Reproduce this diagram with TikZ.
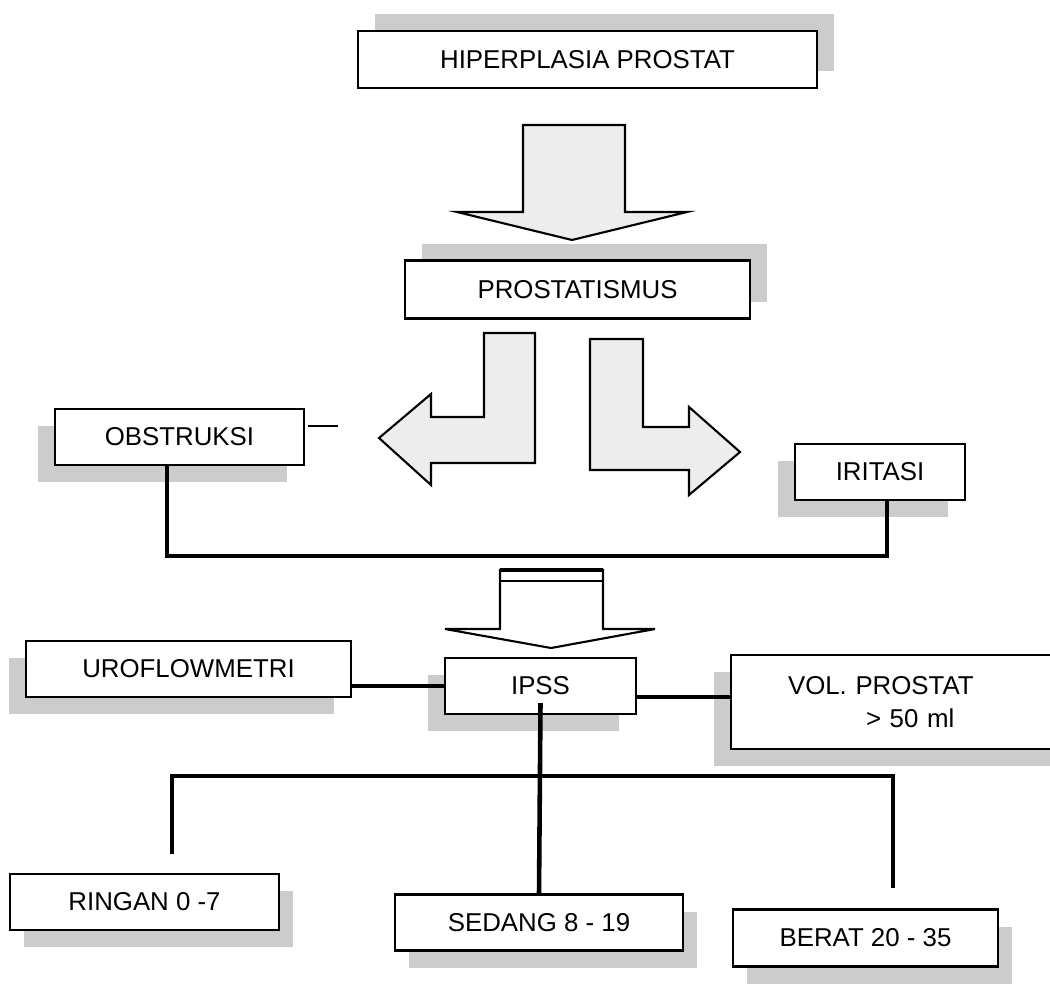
\documentclass[tikz,border=0pt]{standalone}
\usepackage{fontspec}
\setmainfont{Liberation Sans}
\usetikzlibrary{shadows,calc}
\begin{document}
\begin{tikzpicture}[x=0.02cm,y=-0.02cm,
  box/.style={draw=black, line width=1.2pt, fill=white, inner sep=0pt,
    minimum height=1.12cm, font=\fontsize{14.7pt}{19pt}\selectfont},
  shUR/.style={general shadow={fill=gray!40, shadow xshift=0.34cm, shadow yshift=0.34cm}},
  shDL/.style={general shadow={fill=gray!40, shadow xshift=-0.34cm, shadow yshift=-0.34cm}},
  shDR/.style={general shadow={fill=gray!40, shadow xshift=0.28cm, shadow yshift=-0.34cm}},
  blockarrow/.style={draw=black, line width=1.2pt, fill=gray!14, line join=miter},
  conn/.style={line width=2.6pt},
  thinline/.style={line width=1pt}]
\useasboundingbox (0,0) rectangle (1050,990);
\clip (0,0) rectangle (1050,990);
\fill[white] (0,0) rectangle (1050,990);

% block arrows
\draw[blockarrow] (523,125) -- (625,125) -- (625,212) -- (687,212) -- (572,240)
  -- (457,212) -- (523,212) -- cycle;
\draw[blockarrow] (484,333) -- (535,333) -- (535,463) -- (431,463) -- (431,485)
  -- (379,438) -- (431,394) -- (431,417) -- (484,417) -- cycle;
\draw[blockarrow] (590,339) -- (643,339) -- (643,427) -- (689,427) -- (689,407)
  -- (740,452) -- (689,495) -- (689,470) -- (590,470) -- cycle;
\draw[blockarrow, fill=white] (500,570) -- (603,570) -- (603,629) -- (655,629)
  -- (551,648) -- (445,629) -- (500,629) -- cycle;
\draw[line width=2.2pt] (500,570) -- (603,570);
\draw[line width=1.2pt] (500,581) -- (603,581);

% boxes
\node[box, shUR, minimum width=9.18cm, minimum height=1.14cm] (hip) at (587.5,59.5) {HIPERPLASIA PROSTAT};
\node[box, shUR, minimum width=6.9cm, minimum height=1.16cm] (pros) at (577.5,289.5) {PROSTATISMUS};
\node[box, shDL, minimum width=4.98cm] (obs) at (179.5,437) {OBSTRUKSI};
\node[box, shDL, minimum width=3.4cm] (irit) at (880,472) {IRITASI};
\node[box, shDL, minimum width=6.5cm] (uro) at (188.5,669) {UROFLOWMETRI};
\node[box, shDL, minimum width=3.82cm] (ipss) at (540.5,686) {IPSS};
\node[box, shDL, anchor=west, minimum height=1.88cm, inner xsep=1.14cm,
  text width=4.52cm, align=left] (vol) at (730,702) {VOL. PROSTAT\\\hspace*{1.56cm}> 50 ml};
\node[box, shDR, minimum width=5.38cm] (ringan) at (144.5,902) {RINGAN 0 -7};
\node[box, shDR, minimum width=5.76cm] (sedang) at (539,922.5) {SEDANG 8 - 19};
\node[box, shDR, minimum width=5.3cm, minimum height=1.14cm] (berat) at (865.5,938) {BERAT 20 - 35};

% connectors
\coordinate (uL) at (167,556);
\coordinate (uR) at (887,556);
\draw[conn] (obs.south -| uL) -- (uL) -- (uR) -- (irit.south -| uR);

\draw[conn] (uro.east |- ipss.west) -- (ipss.west);
\coordinate (ipssE) at ([yshift=-0.22cm]ipss.east);
\draw[conn] (ipssE) -- (ipssE -| vol.west);

\coordinate (ipssIn) at ([yshift=0.24cm]ipss.south);
\draw[conn] (ipssIn) -- (sedang.north);

\coordinate (bL) at (172,776);
\coordinate (bR) at (893,776);
\coordinate (rEnd) at (172,854);
\coordinate (bEnd) at (893,888);
\draw[conn] (rEnd) -- (bL) -- (bR) -- (bEnd);

\coordinate (dashStart) at ([xshift=0.06cm,yshift=0.22cm]obs.east);
\draw[thinline] (dashStart) -- ++(30,0);
\end{tikzpicture}
\end{document}
